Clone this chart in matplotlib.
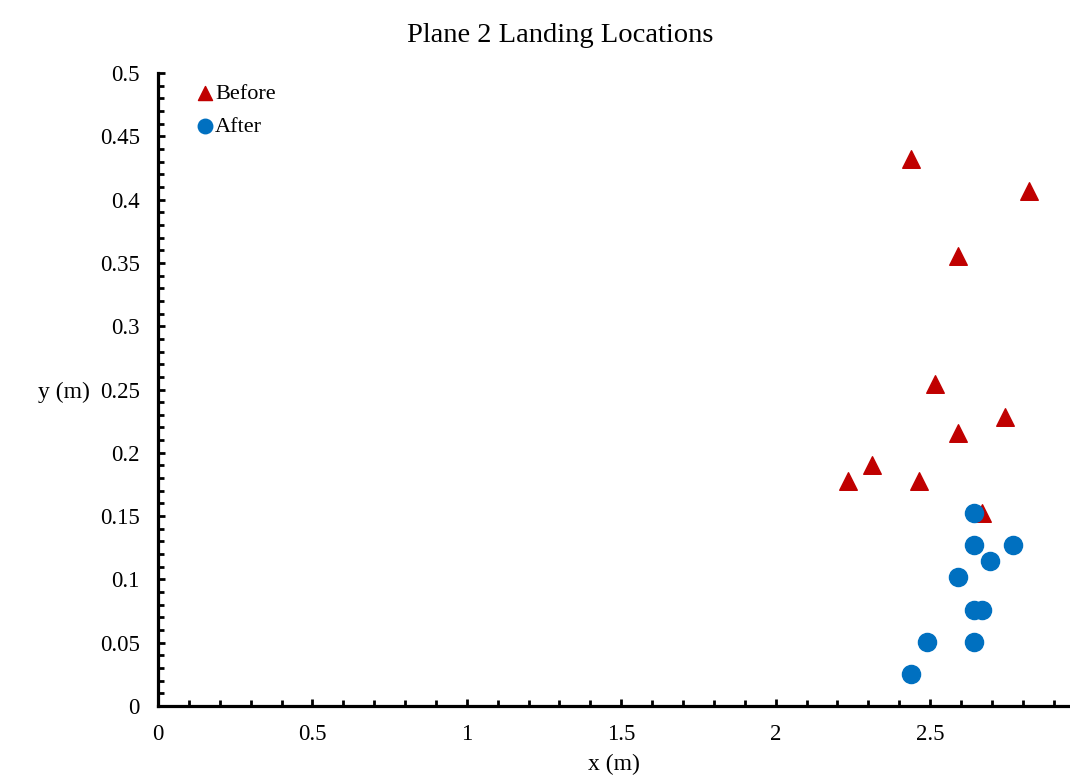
import matplotlib.pyplot as plt
from matplotlib.ticker import MultipleLocator

plt.rcParams['font.family'] = ['Liberation Serif', 'DejaVu Serif']

# landing spots (m)
before_x = [2.4384, 2.8194, 2.5908, 2.5146, 2.7432, 2.5908, 2.3114, 2.2352, 2.4638, 2.667]
before_y = [0.4318, 0.4064, 0.3556, 0.254, 0.2286, 0.2159, 0.1905, 0.1778, 0.1778, 0.1524]

after_x = [2.6416, 2.6416, 2.7686, 2.6924, 2.5908, 2.6416, 2.667, 2.4892, 2.6416, 2.4384]
after_y = [0.1524, 0.127, 0.127, 0.1143, 0.1016, 0.0762, 0.0762, 0.0508, 0.0508, 0.0254]

fig = plt.figure(figsize=(10.7, 7.76), dpi=100)
ax = fig.add_axes([158 / 1070, 70 / 776, 1 - 158 / 1070, 633 / 776])

ax.scatter(before_x, before_y, marker='^', s=160, color='#C00000', label='Before', zorder=3)
ax.scatter(after_x, after_y, marker='o', s=170, color='#0070C0', label='After', zorder=4)

ax.set_xlim(0, 2.953)
ax.set_ylim(0, 0.5)
ax.xaxis.set_minor_locator(MultipleLocator(0.1))
ax.yaxis.set_minor_locator(MultipleLocator(0.01))
ax.set_xticks([0, 0.5, 1, 1.5, 2, 2.5])
ax.set_xticklabels(['0', '0.5', '1', '1.5', '2', '2.5'])
ax.set_yticks([0, 0.05, 0.1, 0.15, 0.2, 0.25, 0.3, 0.35, 0.4, 0.45, 0.5])
ax.set_yticklabels(['0', '0.05', '0.1', '0.15', '0.2', '0.25', '0.3', '0.35', '0.4', '0.45', '0.5'])

for s in ['top', 'right']:
    ax.spines[s].set_visible(False)
for s in ['left', 'bottom']:
    ax.spines[s].set_linewidth(2.3)

ax.tick_params(which='major', direction='in', length=5, width=2, labelsize=16.5)
ax.tick_params(which='minor', direction='in', length=4, width=2)
ax.tick_params(axis='x', pad=13)
ax.tick_params(axis='y', pad=13)

fig.text(560 / 1070, 1 - 36 / 776, 'Plane 2 Landing Locations', fontsize=20.5, ha='center', va='center')
ax.set_xlabel('x (m)', fontsize=17, labelpad=6)
ax.set_ylabel('y (m)', fontsize=17, rotation=0, ha='center', va='center')
ax.yaxis.set_label_coords(-0.1036, 0.495)

ax.legend(loc='upper left', bbox_to_anchor=(0.01, 1.008), frameon=False, fontsize=16,
          markerscale=0.8, handletextpad=-0.55, labelspacing=0.55, borderaxespad=0.3)

fig.savefig('out.png', dpi=100)
